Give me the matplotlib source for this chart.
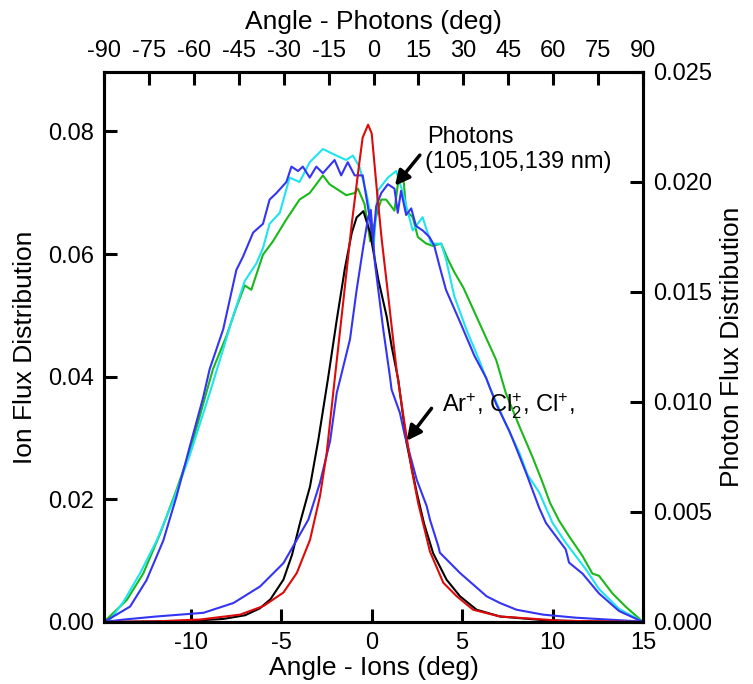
import numpy as np
import matplotlib
matplotlib.use("Agg")
import matplotlib.pyplot as plt

plt.rcParams['font.family'] = ['Liberation Sans', 'DejaVu Sans']
plt.rcParams['mathtext.default'] = 'regular'
plt.rcParams['axes.unicode_minus'] = False

# Ion angular distributions (angle in deg, flux)
ion_black_x = [-14.8, -12, -10, -8.2, -7.0, -6.2, -5.6, -4.88, -4.4, -3.96, -3.41, -2.95, -2.4, -1.93,
               -1.48, -1.1, -0.83, -0.46, -0.09, 0.37, 0.83, 1.1, 1.47, 1.93, 2.49, 2.9, 3.4, 4.14,
               4.88, 5.8, 7.09, 9.5, 12, 15]
ion_black_y = [0, 0.0001, 0.0002, 0.0005, 0.0011, 0.0022, 0.0037, 0.0069, 0.011, 0.0162, 0.0221, 0.0297,
               0.040, 0.0493, 0.0577, 0.0635, 0.066, 0.067, 0.0635, 0.0558, 0.0498, 0.045, 0.0395, 0.0292,
               0.0211, 0.016, 0.0112, 0.0069, 0.0042, 0.002, 0.0009, 0.0003, 0.0001, 0]

ion_red_x = [-14.8, -12, -9.5, -7.28, -5.99, -4.88, -4.14, -3.41, -2.86, -2.49, -2.03, -1.6, -1.1, -0.7,
             -0.5, -0.2, 0.0, 0.3, 0.55, 0.92, 1.38, 1.84, 2.21, 2.57, 3.22, 3.96, 4.7, 5.61, 7.09,
             10.5, 15]
ion_red_y = [0, 0.0001, 0.0004, 0.0012, 0.0026, 0.0048, 0.008, 0.0134, 0.0205, 0.0275, 0.040, 0.0515,
             0.065, 0.0745, 0.079, 0.0811, 0.0797, 0.070, 0.0625, 0.053, 0.041, 0.0319, 0.0249, 0.0194,
             0.0115, 0.0064, 0.0042, 0.002, 0.0009, 0.0002, 0]

ion_blue_x = [-14.8, -13.7, -11.9, -9.3, -7.64, -6.17, -4.88, -4.14, -3.5, -2.86, -2.3, -1.93, -1.75,
              -1.2, -0.83, -0.46, -0.19, -0.05, 0.18, 0.64, 1.01, 1.1, 1.56, 1.84, 2.49, 3.04, 3.22,
              3.68, 3.77, 4.88, 6.35, 7.09, 8.01, 9.48, 11.3, 14.8, 15]
ion_blue_y = [0, 0.0004, 0.0009, 0.0015, 0.0031, 0.0058, 0.0096, 0.0134, 0.0167, 0.0227, 0.0295, 0.0374,
              0.0395, 0.0461, 0.0542, 0.0613, 0.0661, 0.0672, 0.0585, 0.0477, 0.040, 0.0379, 0.0341,
              0.0303, 0.0232, 0.0189, 0.0167, 0.0124, 0.0113, 0.008, 0.0042, 0.0031, 0.002, 0.0012,
              0.0007, 0.0001, 0]

# Photon angular distributions (angle in deg, flux)
ph_blue_x = [-90, -81.3, -75.8, -70.2, -65.8, -61.3, -56.9, -54.7, -50.2, -45.8, -43.6, -40.2, -36.9,
             -34.7, -32.4, -29.1, -27.4, -25.2, -23.6, -21.3, -19.1, -16.9, -13.0, -10.8, -8.6, -6.3,
             -3.6, -1.3, -0.2, 0.9, 2.6, 4.8, 7.0, 8.1, 9.2, 10.9, 12.6, 14.2, 16.4, 18.7, 20.3, 22.0,
             24.2, 28.7, 33.7, 37.6, 41, 45.3, 47.1, 50.9, 55.3, 57.6, 62, 64.2, 65.3, 69.8, 75.3, 82, 90]
ph_blue_y = [0, 0.0007, 0.0019, 0.0037, 0.0057, 0.0080, 0.0102, 0.0115, 0.0133, 0.0160, 0.0166, 0.0177,
             0.0181, 0.0192, 0.0195, 0.0200, 0.0207, 0.0205, 0.0207, 0.0202, 0.0207, 0.0204, 0.0210,
             0.0203, 0.0209, 0.0203, 0.0203, 0.0184, 0.0172, 0.0189, 0.0195, 0.0199, 0.0197, 0.0186,
             0.0196, 0.0185, 0.0188, 0.0180, 0.0178, 0.0175, 0.0171, 0.0162, 0.0151, 0.0137, 0.0121,
             0.0111, 0.0099, 0.0087, 0.0081, 0.0068, 0.0052, 0.0045, 0.0037, 0.0033, 0.0027, 0.0022,
             0.0013, 0.0005, 0]

ph_cyan_x = [-90, -88, -83.6, -78, -72.4, -66.9, -61.3, -54.7, -50.2, -46.9, -43, -39.1, -36.9, -34.7,
             -31.3, -28, -24.7, -21.3, -16.9, -12.4, -9.1, -6.9, -4.7, -2.4, -0.8, 0.0, 1.4, 4.8, 7.6,
             9.8, 13.1, 16.4, 19.2, 22.6, 24.2, 27, 31, 35.3, 38.7, 44.2, 48.7, 51.4, 55.3, 59.8, 64.2,
             70.9, 75.3, 82, 90]
ph_cyan_y = [0, 0.0001, 0.0009, 0.0022, 0.0037, 0.0055, 0.0076, 0.0104, 0.0124, 0.0139, 0.0155, 0.0163,
             0.0170, 0.0181, 0.0186, 0.0202, 0.0200, 0.0209, 0.0215, 0.0212, 0.0210, 0.0212, 0.0207,
             0.0195, 0.0184, 0.0170, 0.0196, 0.0202, 0.0205, 0.0195, 0.0178, 0.0184, 0.0172, 0.0172,
             0.0165, 0.0148, 0.0133, 0.0119, 0.0107, 0.0090, 0.0077, 0.0067, 0.0059, 0.0045, 0.0036,
             0.0024, 0.0015, 0.0006, 0]

ph_green_x = [-90, -82.4, -76.9, -71.3, -65.8, -61, -56.9, -53.6, -49.1, -45.8, -43, -40.8, -39.1,
              -36.9, -33.6, -29.1, -24.7, -21.3, -18, -16.9, -14.7, -9.1, -6.3, -5.2, -3, -1.1, 1.4,
              2.6, 4.2, 7, 8.7, 9.8, 10.9, 13.1, 14.8, 17.6, 19.8, 22.6, 24.8, 27, 30, 33, 36, 41,
              44.2, 48.7, 53.1, 56.3, 59, 62, 65.3, 69.8, 73.1, 75.3, 79.8, 84.2, 90]
ph_green_y = [0, 0.001, 0.0022, 0.0040, 0.0060, 0.0079, 0.0099, 0.0115, 0.0130, 0.0143, 0.0153, 0.0151,
              0.0158, 0.0167, 0.0173, 0.0183, 0.0192, 0.0195, 0.0201, 0.0203, 0.0199, 0.0194, 0.0195,
              0.0197, 0.0190, 0.0173, 0.0187, 0.0192, 0.0192, 0.0187, 0.0205, 0.0205, 0.0187, 0.0184,
              0.0175, 0.0172, 0.0171, 0.0172, 0.0165, 0.0159, 0.0152, 0.0143, 0.0134, 0.0119, 0.0104,
              0.0089, 0.0075, 0.0064, 0.0054, 0.0046, 0.0039, 0.0030, 0.0022, 0.0021, 0.0013, 0.0007, 0]

BLUE = '#3434f4'
CYAN = '#1ee4f0'
GREEN = '#1ab81a'
RED = '#dd0a0a'

fig = plt.figure(figsize=(7.53, 6.84), dpi=100)
rect = [104 / 753, 62 / 684, 539 / 753, 550 / 684]

# photon axes: top x, right y
axp = fig.add_axes(rect)
axp.plot(ph_green_x, ph_green_y, color=GREEN, lw=1.5)
axp.plot(ph_cyan_x, ph_cyan_y, color=CYAN, lw=1.5)
axp.plot(ph_blue_x, ph_blue_y, color=BLUE, lw=1.5)
axp.set_xlim(-90, 90)
axp.set_ylim(0, 0.025)
axp.set_xticks(np.arange(-90, 91, 15))
axp.set_yticks(np.arange(0, 0.0251, 0.005))
axp.yaxis.set_major_formatter(matplotlib.ticker.FormatStrFormatter('%.3f'))
axp.xaxis.tick_top()
axp.xaxis.set_label_position('top')
axp.yaxis.tick_right()
axp.yaxis.set_label_position('right')
axp.set_xlabel('Angle - Photons (deg)', fontsize=19, labelpad=8)
axp.set_ylabel('Photon Flux Distribution', fontsize=19, labelpad=6)
axp.tick_params(direction='in', length=9.5, width=2.2, labelsize=17, pad=7)

# ion axes: bottom x, left y
ax = fig.add_axes(rect, facecolor='none')
ax.plot(ion_black_x, ion_black_y, color='black', lw=1.5)
ax.plot(ion_blue_x, ion_blue_y, color=BLUE, lw=1.5)
ax.plot(ion_red_x, ion_red_y, color=RED, lw=1.5)
ax.set_xlim(-14.8, 15)
ax.set_ylim(0, 0.0897)
ax.set_xticks([-10, -5, 0, 5, 10, 15])
ax.set_yticks([0, 0.02, 0.04, 0.06, 0.08])
ax.yaxis.set_major_formatter(matplotlib.ticker.FormatStrFormatter('%.2f'))
ax.set_xlabel('Angle - Ions (deg)', fontsize=19, labelpad=2)
ax.set_ylabel('Ion Flux Distribution', fontsize=19, labelpad=8)
ax.tick_params(direction='in', length=9.5, width=2.2, labelsize=17, pad=7)

for a in (ax, axp):
    for s in a.spines.values():
        s.set_linewidth(2.2)

ax.annotate('', xy=(1.19, 0.0708), xytext=(2.76, 0.0765),
            arrowprops=dict(arrowstyle='-|>', color='black', lw=2.5, mutation_scale=22))
ax.text(3.04, 0.0782, 'Photons', fontsize=17, va='baseline')
ax.text(2.95, 0.0741, '(105,105,139 nm)', fontsize=17, va='baseline')

ax.annotate('', xy=(1.84, 0.0292), xytext=(3.4, 0.0352),
            arrowprops=dict(arrowstyle='-|>', color='black', lw=2.5, mutation_scale=22))
ax.text(3.87, 0.0342, r'Ar$^{+}$, Cl$_2^{+}$, Cl$^{+}$,', fontsize=17, va='baseline')

fig.savefig('out.png', dpi=100)
